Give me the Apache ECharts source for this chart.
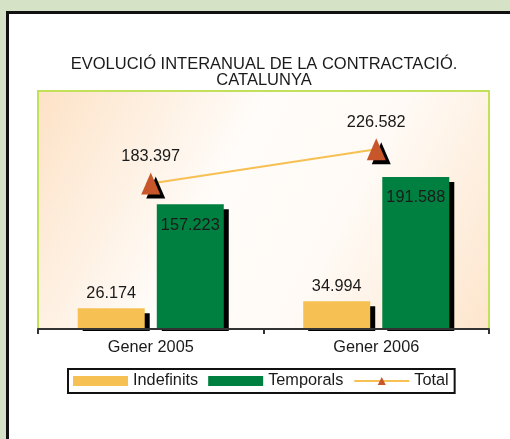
<!DOCTYPE html>
<html>
<head>
<meta charset="utf-8">
<script src="https://cdn.jsdelivr.net/npm/echarts@6/dist/echarts.min.js"></script>
<style>
  html, body { margin: 0; padding: 0; background: #d5e2c6; overflow: hidden; width: 510px; height: 439px; }
  #panel { position: absolute; left: 6px; top: 11px; width: 504px; height: 428px;
           background: #fff; border-left: 3px solid #111; border-top: 3px solid #111; box-sizing: border-box; }
  #main { position: absolute; left: 0; top: 0; width: 510px; height: 439px; }
</style>
</head>
<body>
<div id="panel"></div>
<div id="main"></div>
<script>
// dades (contractes)
var categories = ['Gener 2005', 'Gener 2006'];
var indefinits = [26174, 34994];
var temporals = [157223, 191588];
var total = [183397, 226582];

function fmt(v) {
	return String(v).replace(/\B(?=(\d{3})+(?!\d))/g, '.');
}

var myChart = echarts.init(document.getElementById('main'));
var font = 'Liberation Sans, Arial, sans-serif';

var option = {
	backgroundColor: 'transparent',
	textStyle: { fontFamily: font, color: '#1a1a1a' },
	title: {
		text: 'EVOLUCIÓ INTERANUAL DE LA CONTRACTACIÓ.\nCATALUNYA',
		left: 259,
		textAlign: 'center',
		top: 51,
		textStyle: { fontFamily: font, fontSize: 16.5, fontWeight: 'normal', color: '#1a1a1a', lineHeight: 16 }
	},
	legend: {
		left: 68,
		top: 369,
		padding: [4, 6, 4, 5],
		itemGap: 10,
		itemWidth: 55,
		itemHeight: 10,
		borderColor: '#111',
		borderWidth: 2,
		backgroundColor: '#fff',
		textStyle: { fontFamily: font, fontSize: 16.3, color: '#1a1a1a' },
		data: [
			{ name: 'Indefinits', icon: 'rect' },
			{ name: 'Temporals', icon: 'rect' },
			'Total'
		]
	},
	grid: {
		left: 38,
		right: 21,
		top: 91,
		bottom: 110,
		show: true,
		borderColor: '#c2e05a',
		borderWidth: 2,
		backgroundColor: new echarts.graphic.LinearGradient(0, 0, 1, 1, [
			{ offset: 0, color: '#fde2c6' },
			{ offset: 0.4, color: '#fffcf9' },
			{ offset: 0.65, color: '#fffaf5' },
			{ offset: 1, color: '#fde5cc' }
		])
	},
	xAxis: {
		type: 'category',
		data: categories,
		z: 20,
		axisLine: { lineStyle: { color: '#333', width: 2 } },
		axisTick: { show: true, length: 5, lineStyle: { color: '#333', width: 2 } },
		axisLabel: { fontSize: 16.3, color: '#1a1a1a', margin: 11, fontFamily: font }
	},
	yAxis: {
		type: 'value',
		min: 0,
		max: 300000,
		show: false
	},
	graphic: [{
		type: 'rect',
		z: 10,
		shape: { x: 39, y: 331, width: 460, height: 8 },
		style: { fill: '#fff' }
	}, {
		type: 'rect',
		z: 10,
		shape: { x: 500, y: 14, width: 10, height: 425 },
		style: { fill: '#fff' }
	}],
	series: [
		{
			name: 'Indefinits',
			type: 'bar',
			data: indefinits,
			barWidth: 67,
			barGap: '18%',
			itemStyle: { color: '#f6c053', shadowColor: '#000', shadowOffsetX: 5, shadowOffsetY: 5, shadowBlur: 0 },
			label: { show: true, position: 'top', distance: 7, fontSize: 16.3, color: '#1a1a1a', fontFamily: font,
				formatter: function (p) { return fmt(p.value); } }
		},
		{
			name: 'Temporals',
			type: 'bar',
			data: temporals,
			barWidth: 67,
			itemStyle: { color: '#008040', shadowColor: '#000', shadowOffsetX: 5, shadowOffsetY: 5, shadowBlur: 0 },
			label: { show: true, position: 'insideTop', distance: 13, fontSize: 16.3, color: '#1a1a1a', fontFamily: font,
				formatter: function (p) { return fmt(p.value); } }
		},
		{
			name: 'Total',
			type: 'line',
			data: total,
			z: 30,
			symbol: 'triangle',
			symbolSize: [19, 22],
			lineStyle: { color: '#f6c053', width: 2 },
			itemStyle: { color: '#c8562b', shadowColor: '#000', shadowOffsetX: 5, shadowOffsetY: 4, shadowBlur: 0 },
			label: { show: true, position: 'top', distance: 8, fontSize: 16.3, color: '#1a1a1a', fontFamily: font,
				formatter: function (p) { return fmt(p.value); } }
		}
	]
};
myChart.setOption(option);
</script>
</body>
</html>
